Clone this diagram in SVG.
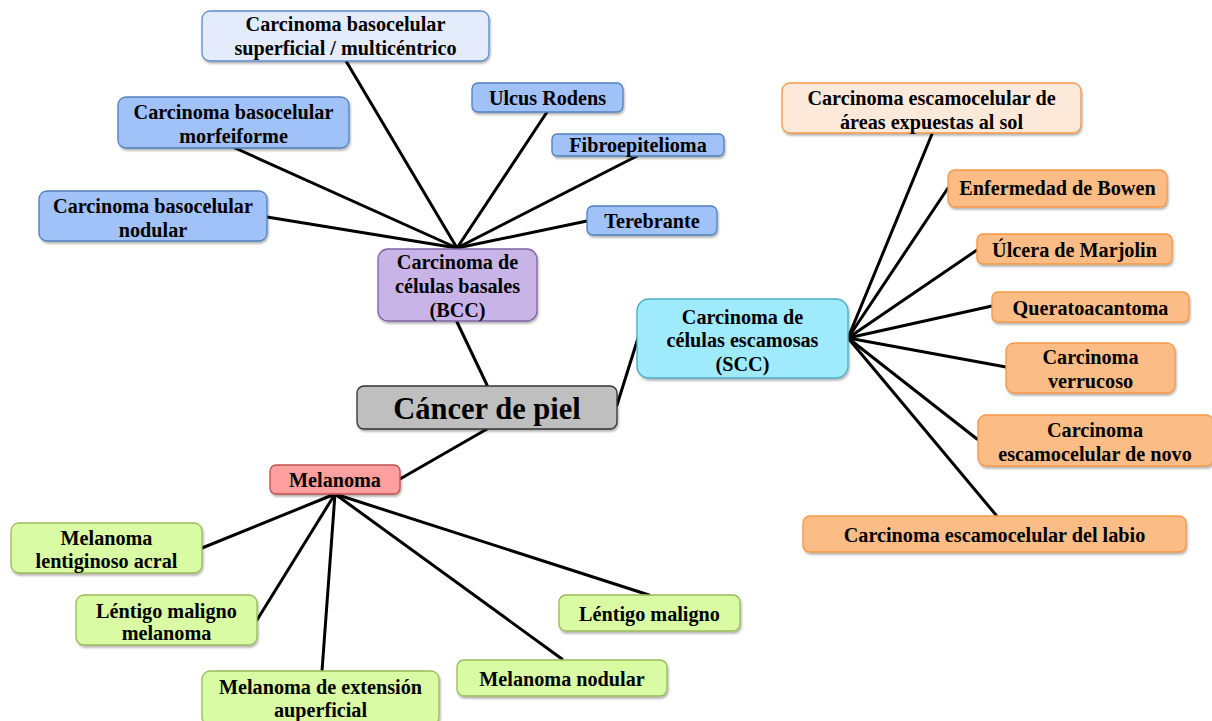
<svg xmlns="http://www.w3.org/2000/svg" width="1212" height="721" viewBox="0 0 1212 721">
<defs>
<filter id="sh" x="-10%" y="-10%" width="120%" height="130%">
<feDropShadow dx="1" dy="2" stdDeviation="1.2" flood-color="#000" flood-opacity="0.3"/>
</filter>
<style>
.n rect{filter:url(#sh);stroke-width:1.3}
text{font-family:"Liberation Serif","Times New Roman",serif;font-weight:bold;font-size:20.2px;fill:#000;text-anchor:middle}
.lb rect{fill:#e4ecfb;stroke:#5b8bd0}
.bl rect{fill:#a1c1f9;stroke:#4f81bd}
.pu rect{fill:#c9b4e7;stroke:#8064a2}
.gr rect{fill:#bfbfbf;stroke:#333}
.cy rect{fill:#9feafc;stroke:#4bacc6}
.po rect{fill:#fde9d9;stroke:#f79646}
.or rect{fill:#fbbd85;stroke:#f79646}
.rd rect{fill:#ff9f9f;stroke:#c0504d}
.gn rect{fill:#d8fba3;stroke:#9bbb59}
#conn line{stroke:#000;stroke-width:3;stroke-linecap:round}
</style>
</defs>
<rect width="1212" height="721" fill="#fff"/>
<g id="conn">
<line x1="457" y1="248" x2="346" y2="61"/>
<line x1="457" y1="248" x2="235" y2="148"/>
<line x1="457" y1="248" x2="267" y2="217"/>
<line x1="457" y1="248" x2="547" y2="112"/>
<line x1="457" y1="248" x2="637" y2="156"/>
<line x1="457" y1="248" x2="587" y2="221"/>
<line x1="457" y1="322" x2="487" y2="385"/>
<line x1="617" y1="405" x2="638" y2="338"/>
<line x1="487" y1="429" x2="400" y2="479"/>
<line x1="848" y1="338" x2="932" y2="134"/>
<line x1="848" y1="338" x2="948" y2="188"/>
<line x1="848" y1="338" x2="977" y2="250"/>
<line x1="848" y1="338" x2="992" y2="306"/>
<line x1="848" y1="338" x2="1006" y2="367"/>
<line x1="848" y1="338" x2="977" y2="439"/>
<line x1="848" y1="338" x2="996" y2="515"/>
<line x1="335" y1="494" x2="202" y2="548"/>
<line x1="335" y1="494" x2="257" y2="620"/>
<line x1="335" y1="494" x2="322" y2="671"/>
<line x1="335" y1="494" x2="562" y2="659"/>
<line x1="335" y1="494" x2="649" y2="595"/>
</g>
<g id="bcc-sup" class="n lb"><rect x="202" y="11" width="287" height="50" rx="8"/><text x="345.5" y="31">Carcinoma basocelular</text><text x="345.5" y="55">superficial / multicéntrico</text></g>
<g id="bcc-morf" class="n bl"><rect x="118" y="97" width="231" height="51" rx="8"/><text x="233.5" y="119">Carcinoma basocelular</text><text x="233.5" y="143">morfeiforme</text></g>
<g id="bcc-nod" class="n bl"><rect x="39" y="191" width="228" height="50" rx="8"/><text x="153" y="213">Carcinoma basocelular</text><text x="153" y="237">nodular</text></g>
<g id="ulcus" class="n bl"><rect x="472" y="83" width="151" height="29" rx="6"/><text x="547.5" y="105">Ulcus Rodens</text></g>
<g id="fibro" class="n bl"><rect x="552" y="134" width="172" height="22" rx="5"/><text x="638" y="152">Fibroepitelioma</text></g>
<g id="tere" class="n bl"><rect x="587" y="206" width="130" height="29" rx="6"/><text x="652" y="228">Terebrante</text></g>
<g id="bcc" class="n pu"><rect x="378" y="249" width="159" height="72" rx="10"/><text x="457.5" y="269">Carcinoma de</text><text x="457.5" y="293">células basales</text><text x="457.5" y="317">(BCC)</text></g>
<g id="cancer" class="n gr"><rect x="357" y="386" width="260" height="43" rx="7"/><text x="487" y="419" style="font-size:30.5px">Cáncer de piel</text></g>
<g id="scc" class="n cy"><rect x="637" y="299" width="211" height="79" rx="12"/><text x="742.5" y="324">Carcinoma de</text><text x="742.5" y="347">células escamosas</text><text x="742.5" y="371">(SCC)</text></g>
<g id="scc-sol" class="n po"><rect x="782" y="83" width="299" height="50" rx="8"/><text x="931.5" y="105">Carcinoma escamocelular de</text><text x="931.5" y="129">áreas expuestas al sol</text></g>
<g id="bowen" class="n or"><rect x="948" y="170" width="219" height="37" rx="7"/><text x="1057.5" y="195">Enfermedad de Bowen</text></g>
<g id="marjolin" class="n or"><rect x="977" y="234" width="195" height="30" rx="6"/><text x="1074.5" y="257">Úlcera de Marjolin</text></g>
<g id="querato" class="n or"><rect x="992" y="292" width="197" height="30" rx="6"/><text x="1090.5" y="315">Queratoacantoma</text></g>
<g id="verrucoso" class="n or"><rect x="1006" y="343" width="169" height="50" rx="8"/><text x="1090.5" y="364">Carcinoma</text><text x="1090.5" y="388">verrucoso</text></g>
<g id="denovo" class="n or"><rect x="978" y="415" width="236" height="51" rx="8"/><text x="1095" y="437">Carcinoma</text><text x="1095" y="461">escamocelular de novo</text></g>
<g id="labio" class="n or"><rect x="803" y="516" width="383" height="36" rx="7"/><text x="994.5" y="542">Carcinoma escamocelular del labio</text></g>
<g id="melanoma" class="n rd"><rect x="270" y="465" width="130" height="29" rx="6"/><text x="335" y="487">Melanoma</text></g>
<g id="mel-acral" class="n gn"><rect x="11" y="523" width="191" height="50" rx="8"/><text x="106.5" y="545">Melanoma</text><text x="106.5" y="568">lentiginoso acral</text></g>
<g id="lmm" class="n gn"><rect x="76" y="595" width="181" height="50" rx="8"/><text x="166.5" y="618">Léntigo maligno</text><text x="166.5" y="640">melanoma</text></g>
<g id="extension" class="n gn"><rect x="202" y="671" width="237" height="54" rx="8"/><text x="320.5" y="694">Melanoma de extensión</text><text x="320.5" y="717">auperficial</text></g>
<g id="nodular" class="n gn"><rect x="457" y="660" width="210" height="36" rx="7"/><text x="562" y="686">Melanoma nodular</text></g>
<g id="lentigo" class="n gn"><rect x="559" y="595" width="181" height="36" rx="7"/><text x="649.5" y="621">Léntigo maligno</text></g>
</svg>
